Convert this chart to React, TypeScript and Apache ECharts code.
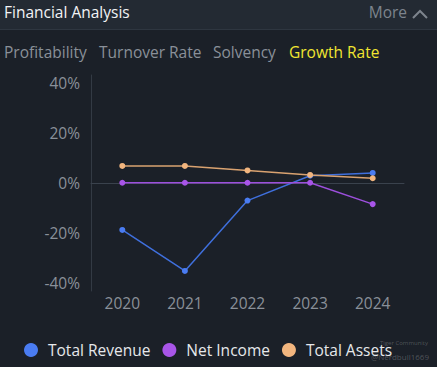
import React, { useEffect, useRef } from "react";
import * as echarts from "echarts";

const years = ["2020", "2021", "2022", "2023", "2024"];
const totalRevenue = [-18.7, -35.0, -7.0, 2.9, 4.0];
const netIncome = [0.1, 0.1, 0.1, 0.1, -8.4];
const totalAssets = [6.8, 6.8, 5.0, 3.2, 1.9];
const yTicks = [-40, -20, 0, 20, 40];
const tabs = ["Profitability", "Turnover Rate", "Solvency", "Growth Rate"];

export default function App() {
  const ref = useRef<HTMLDivElement>(null);
  useEffect(() => {
    const chart = echarts.init(ref.current!, null, { renderer: "svg" });
    const font = "'Open Sans', 'Noto Sans', sans-serif";
    const tabX = [4, 99, 213, 289];
    chart.setOption({
      animation: false,
      backgroundColor: "#1b2028",
      textStyle: { fontFamily: font },
      graphic: [
        { type: "rect", left: 0, top: 0, shape: { width: 437, height: 29 }, style: { fill: "#232a33" }, silent: true },
        { type: "rect", left: 0, top: 29, shape: { width: 437, height: 1 }, style: { fill: "#2e3640" }, silent: true },
        { type: "text", left: 4, top: 4, style: { text: "Financial Analysis", fill: "#f2f3f5", font: `15.5px ${font}` } },
        { type: "text", right: 30, top: 4, style: { text: "More", fill: "#7d848d", font: `15.5px ${font}` } },
        { type: "polyline", shape: { points: [[413, 18], [420, 11], [427, 18]] }, style: { stroke: "#7d848d", lineWidth: 2, fill: "none" } },
        ...tabs.map((t, i) => ({
          type: "text",
          left: tabX[i],
          top: 44,
          style: { text: t, fill: i === 3 ? "#f2e631" : "#8a9099", font: `15.5px ${font}` },
        })),
        { type: "text", right: 9, top: 340, style: { text: "Tiger Community", fill: "rgba(200,200,200,0.3)", font: `6px ${font}` } },
        { type: "text", right: 8, top: 352, style: { text: "@Nerdbull1669", fill: "rgba(200,200,200,0.3)", font: `8px ${font}` } },
      ],
      grid: { left: 91, right: 33, top: 75, height: 216, containLabel: false },
      legend: {
        bottom: 4,
        left: 19,
        icon: "circle",
        itemWidth: 14,
        itemHeight: 14,
        itemGap: 12,
        textStyle: { color: "#e6e8eb", fontSize: 15.5, fontFamily: font, padding: [0, 0, 0, 5] },
        data: ["Total Revenue", "Net Income", "Total Assets"],
      },
      xAxis: {
        type: "category",
        data: years,
        boundaryGap: true,
        axisLine: { onZero: true, lineStyle: { color: "#3a424d", width: 1 } },
        axisTick: { show: false },
        axisLabel: { color: "#8a9099", fontSize: 15.5, margin: 12, verticalAlign: "middle" },
        position: "bottom",
      },
      yAxis: {
        type: "value",
        min: -43,
        max: 43,
        splitLine: { show: false },
        axisLine: { show: true, lineStyle: { color: "#333a44", width: 1 } },
        axisTick: { show: false },
        axisLabel: {
          color: "#8a9099",
          fontSize: 15.5,
          margin: 11,
          customValues: yTicks,
          formatter: (v: number) => `${v}%`,
        },
      },
      series: [
        { name: "Total Revenue", data: totalRevenue, color: "#4a7cf2", lineStyle: { color: "#3f6fdc" } },
        { name: "Net Income", data: netIncome, color: "#a855e8", lineStyle: { color: "#9c4fdc" } },
        { name: "Total Assets", data: totalAssets, color: "#f2b57e", lineStyle: { color: "#d9a270" } },
      ].map((s) => ({
        ...s,
        type: "line",
        symbol: "circle",
        symbolSize: 6,
        lineStyle: { ...s.lineStyle, width: 1.5 },
        itemStyle: { color: s.color },
      })),
    });
    return () => chart.dispose();
  }, []);
  return (
    <div
      ref={ref}
      style={{ position: "fixed", left: 0, top: 0, width: 437, height: 367 }}
    />
  );
}
